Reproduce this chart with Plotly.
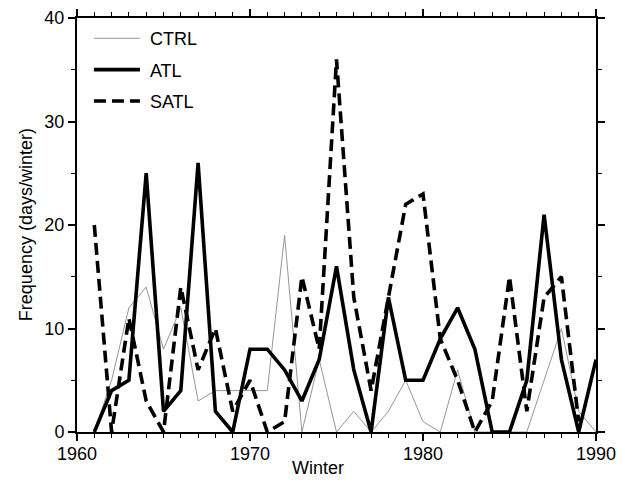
import plotly.graph_objects as go

years = list(range(1961, 1991))
ctrl = [0, 5, 12, 14, 8, 12, 3, 4, 4, 4, 4, 19, 0, 7, 0, 2, 0, 2, 5, 1, 0, 6, 0, 0, 0, 0, 5, 10, 2, 0]
atl = [0, 4, 5, 25, 2, 4, 26, 2, 0, 8, 8, 6, 3, 7, 16, 6, 0, 13, 5, 5, 9, 12, 8, 0, 0, 5, 21, 7, 0, 7]
satl_years = list(range(1961, 1990))
satl = [20, 0, 11, 3, 0, 14, 6, 10, 2, 5, 0, 1, 15, 8, 36, 13, 4, 13, 22, 23, 9, 5, 0, 3, 15, 2, 13, 15, 1]

font = "Liberation Sans, Arial, Helvetica, sans-serif"
pad = "\u00a0"

fig = go.Figure()
fig.add_trace(go.Scatter(x=years, y=ctrl, mode="lines", name=pad + "CTRL", legendgroup="a",
                         line=dict(color="#8a8a8a", width=0.9)))
fig.add_trace(go.Scatter(x=years, y=atl, mode="lines", name=pad + "ATL", legendgroup="b",
                         line=dict(color="black", width=3.6)))
fig.add_trace(go.Scatter(x=satl_years, y=satl, mode="lines", name=pad + "SATL", legendgroup="c",
                         line=dict(color="black", width=3.6, dash="12px,6px")))

axis_common = dict(
    showgrid=False, zeroline=False, showline=True, linecolor="black", linewidth=2,
    mirror="ticks", ticks="outside", ticklen=7, tickwidth=1.5, tickcolor="black",
    tickfont=dict(size=18, color="black", family=font), automargin=False,
)

fig.update_xaxes(range=[1960, 1990], tick0=1960, dtick=10, ticklabelstandoff=-3,
                 minor=dict(dtick=1, ticklen=4, tickwidth=1, tickcolor="black", ticks="outside"),
                 **axis_common)
fig.update_yaxes(range=[0, 40], tick0=0, dtick=10,
                 minor=dict(dtick=5, ticklen=4, tickwidth=1, tickcolor="black", ticks="outside"),
                 **axis_common)

fig.add_annotation(text="Winter", xref="paper", yref="paper", x=0.464, y=-0.058,
                   xanchor="center", yanchor="top", showarrow=False,
                   font=dict(size=18, family=font, color="black"))
fig.add_annotation(text="Frequency (days/winter)", xref="paper", yref="paper",
                   x=-0.098, y=0.5, textangle=-90, xanchor="center", yanchor="middle",
                   showarrow=False, font=dict(size=18, family=font, color="black"))

fig.update_layout(
    width=617, height=485,
    margin=dict(l=69, r=29, t=10, b=61),
    paper_bgcolor="white", plot_bgcolor="white",
    font=dict(family=font, size=18, color="black"),
    showlegend=True,
    legend=dict(x=0.023, y=0.995, xanchor="left", yanchor="top",
                bgcolor="rgba(0,0,0,0)", font=dict(size=18, family=font, color="black"),
                itemwidth=46, tracegroupgap=5),
)

fig.write_html("out.html")
